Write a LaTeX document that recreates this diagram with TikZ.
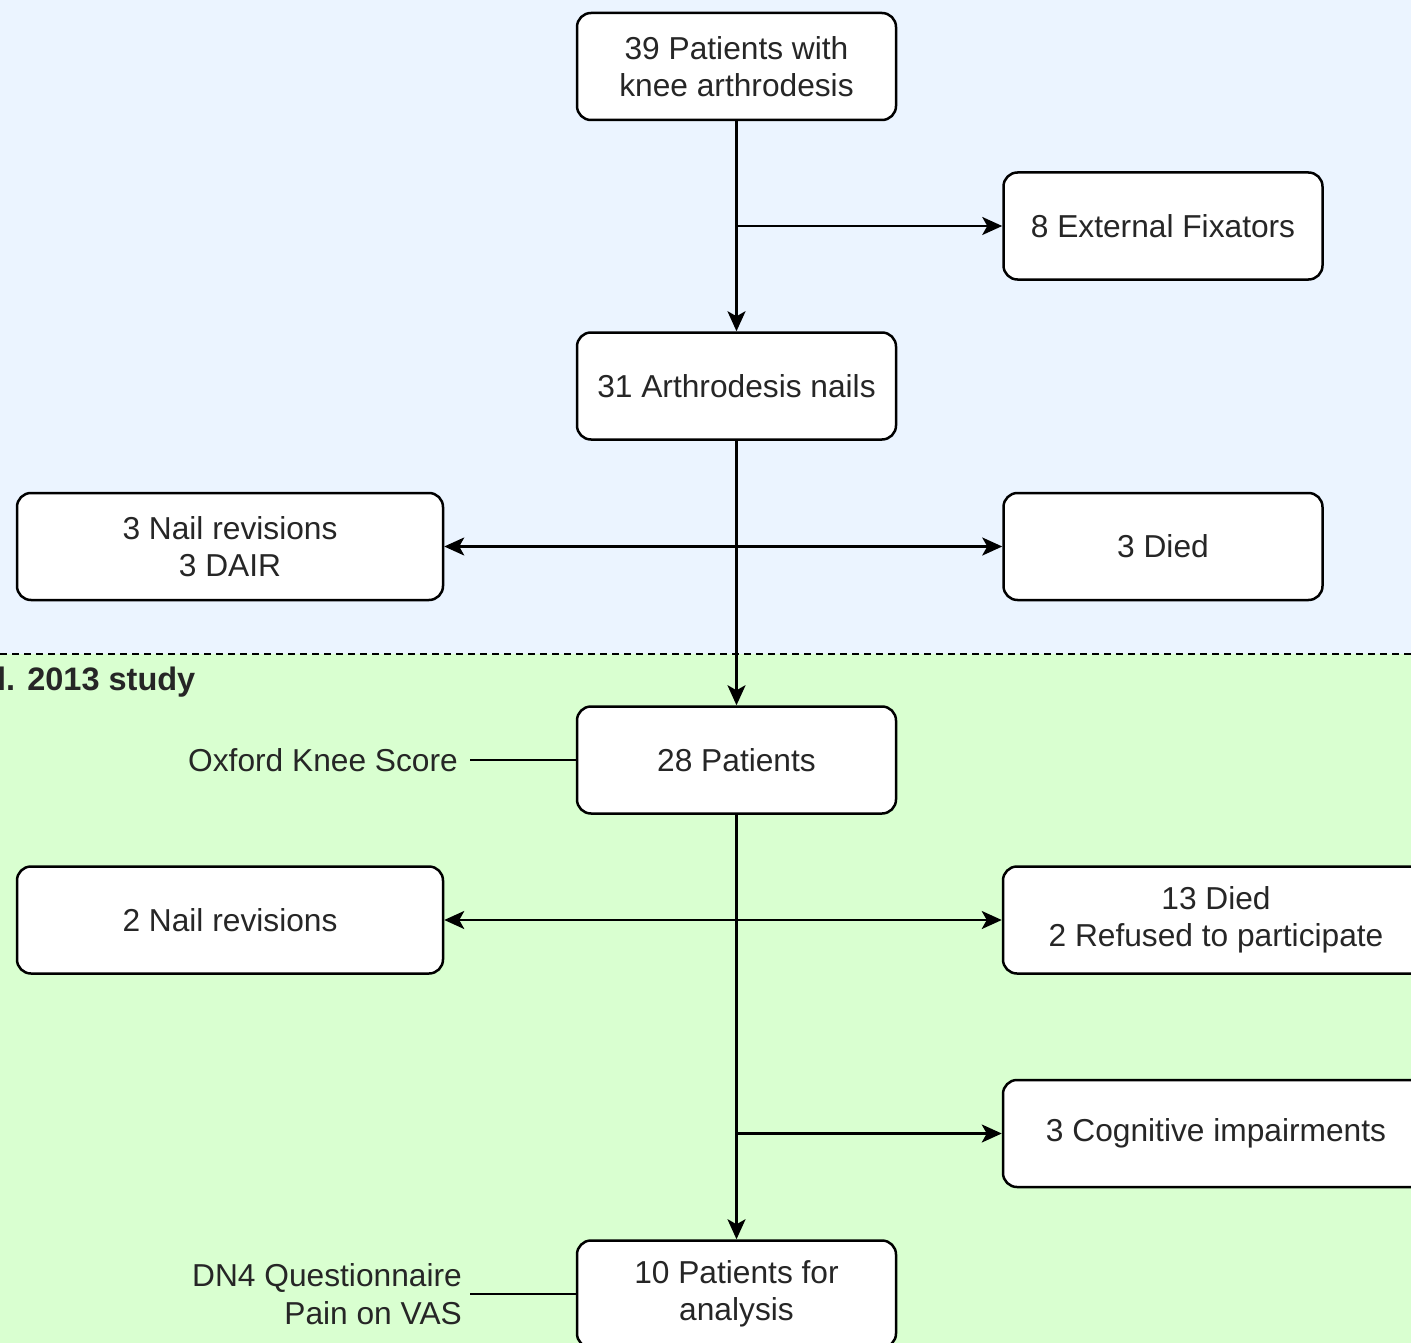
\documentclass[tikz,border=0pt]{standalone}
\usepackage{fontspec}
\setmainfont{Liberation Sans}
\usetikzlibrary{arrows.meta}
\definecolor{bgblue}{HTML}{EBF4FF}
\definecolor{bggreen}{HTML}{D9FFD0}
\definecolor{txt}{HTML}{262626}
\tikzset{
  box/.style={draw=black, fill=white, line width=2.5pt, rounded corners=14pt, align=center,
    text=txt, font=\fontsize{31.7}{37.5}\selectfont, inner sep=0pt},
  nbox/.style={box, minimum width=319pt, minimum height=107pt},
  wbox/.style={box, minimum width=426pt, minimum height=107pt},
  lbl/.style={text=txt, font=\fontsize{31.7}{37.5}\selectfont, inner ysep=0pt},
  arr/.style={draw=black, line width=2.5pt, -{Stealth[length=20pt,width=18pt,inset=5pt]}},
  con/.style={draw=black, line width=2.5pt}
}
\begin{document}
\begin{tikzpicture}[x=1pt,y=-1pt]
\useasboundingbox (0,0) rectangle (1411,1343);
\clip (0,0) rectangle (1411,1343);
\fill[bgblue] (0,0) rectangle (1411,654);
\fill[bggreen] (0,654) rectangle (1411,1343);
\draw[black, line width=2pt, dash pattern=on 7pt off 5pt] (0,654) -- (1411,654);
\node[lbl, font=\fontsize{32.5}{38}\selectfont\bfseries, anchor=west, inner xsep=0pt] (study) at (-3,682) {l. 2013 study};

\node[nbox] (A) at (736.5,66.5) {39 Patients with\\knee arthrodesis};
\node[nbox] (B) at (1163,226) {8 External Fixators};
\node[nbox] (C) at (736.5,386) {31 Arthrodesis nails};
\node[wbox] (D) at (230,546.5) {3 Nail revisions\\3 DAIR};
\node[nbox] (E) at (1163,546.5) {3 Died};
\node[nbox] (F) at (736.5,760) {28 Patients};
\node[wbox] (G) at (230,920) {2 Nail revisions};
\node[wbox] (H) at (1216,920) {13 Died\\2 Refused to participate};
\node[wbox] (I) at (1216,1133.5) {3 Cognitive impairments};
\node[nbox] (J) at (736.5,1294) {10 Patients for\\analysis};

\node[lbl, anchor=east, inner xsep=12pt] (oks) at (470,760) {Oxford Knee Score};
\node[lbl, anchor=east, align=right, inner xsep=8pt] (dn4) at (470,1294) {DN4 Questionnaire\\Pain on VAS};

\draw[arr] (A) -- (C);
\draw[arr] (A |- B) -- (B.west);
\draw[arr] (C) -- (F);
\draw[arr] (C |- D) -- (D.east);
\draw[arr] (C |- E) -- (E.west);
\draw[arr] (F) -- (J);
\draw[arr] (F |- G) -- (G.east);
\draw[arr] (F |- H) -- (H.west);
\draw[arr] (F |- I) -- (I.west);
\draw[con] (oks.east) -- (F.west);
\draw[con] (dn4.east) -- (J.west);
\end{tikzpicture}
\end{document}
